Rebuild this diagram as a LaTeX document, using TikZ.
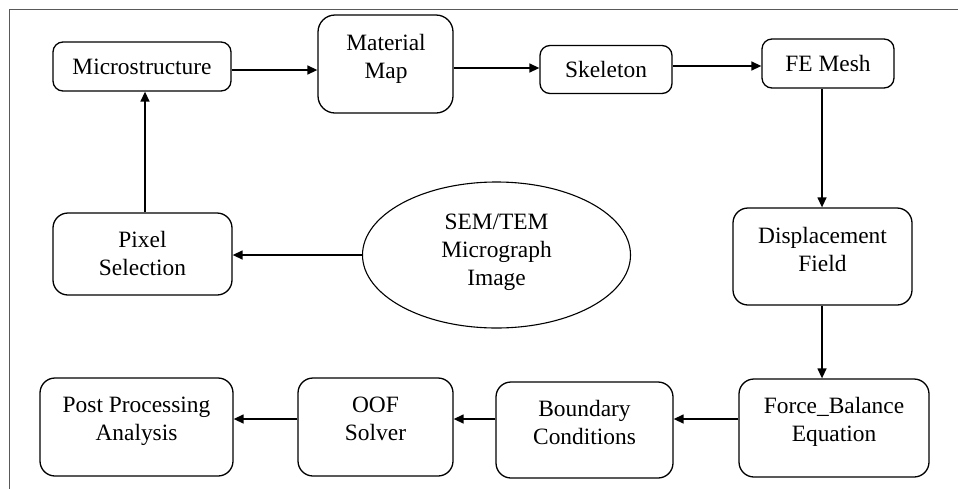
\documentclass[tikz,border=0pt]{standalone}
\usepackage{fontspec}
\setmainfont{Liberation Serif}
\usetikzlibrary{arrows.meta,shapes.geometric}
\begin{document}
\begin{tikzpicture}[x=1pt,y=-1pt,
  box/.style={draw, line width=1.3pt, rounded corners=#1, inner sep=0pt,
    font=\fontsize{23.4}{28}\selectfont},
  box/.default=15pt,
  lbl/.style={font=\fontsize{23.4}{28}\selectfont, align=center, inner sep=0pt},
  oval/.style={draw, ellipse, line width=1.1pt, inner sep=0pt},
  arr/.style={-{Triangle[length=10pt,width=9pt]}, line width=1.4pt},
  frame/.style={line width=1pt, black!65}]
\useasboundingbox (0,0) rectangle (958,488);
\begin{scope}
  \clip (0,0) rectangle (958,488);
  \draw[frame] (9,9) rectangle (975,505);
\end{scope}
% guide coordinates for connectors
\coordinate (rowa) at (0,70);
\coordinate (rowb) at (0,68);
\coordinate (rowc) at (0,66);
\coordinate (rowbot) at (0,419);
\coordinate (colr) at (822,0);
\coordinate (coll) at (145,0);
% boxes
\node[box=10pt, minimum width=178pt, minimum height=49pt] (micro) at (142,66.5) {Microstructure};
\node[box=17pt, minimum width=135pt, minimum height=98pt] (mat) at (385.5,64) {};
\node[lbl] (matt) at (386,58.5) {Material\\Map};
\node[box=10pt, minimum width=132pt, minimum height=48pt] (skel) at (606,69.5) {Skeleton};
\node[box=10pt, minimum width=132pt, minimum height=49pt] (fe) at (828,63.5) {FE Mesh};
\node[box, minimum width=179pt, minimum height=97pt] (disp) at (822.5,256.5) {};
\node[lbl] (dispt) at (822.5,249) {Displacement\\Field};
\node[box, minimum width=190pt, minimum height=98pt] (fb) at (834,428) {};
\node[lbl] (fbt) at (834,421.5) {Force\_Balance\\Equation};
\node[box, minimum width=177pt, minimum height=96pt] (bc) at (584.5,430) {};
\node[lbl] (bct) at (584.5,422) {Boundary\\Conditions};
\node[box, minimum width=155pt, minimum height=98pt] (oof) at (375.5,427) {};
\node[lbl] (ooft) at (375.5,419) {OOF\\Solver};
\node[box, minimum width=193pt, minimum height=98pt] (post) at (136.5,427) {};
\node[lbl] (postt) at (136.5,421.5) {Post Processing\\Analysis};
\node[box, minimum width=179pt, minimum height=82pt] (pix) at (142.5,254) {};
\node[lbl] (pixt) at (142.5,253) {Pixel\\Selection};
\node[oval, minimum width=268pt, minimum height=146pt] (sem) at (496.5,255) {};
\node[lbl] (semt) at (496.5,252.5) {SEM/TEM\\Micrograph\\Image};
% connectors
\draw[arr] (micro.east |- rowa) -- (mat.west |- rowa);
\draw[arr] (mat.east |- rowb) -- (skel.west |- rowb);
\draw[arr] (skel.east |- rowc) -- (fe.west |- rowc);
\draw[arr] (fe.south -| colr) -- (disp.north -| colr);
\draw[arr] (disp.south -| colr) -- (fb.north -| colr);
\draw[arr] (fb.west |- rowbot) -- (bc.east |- rowbot);
\draw[arr] (bc.west |- rowbot) -- (oof.east |- rowbot);
\draw[arr] (oof.west |- rowbot) -- (post.east |- rowbot);
\draw[arr] (sem.west) -- (sem.west -| pix.east);
\draw[arr] (pix.north -| coll) -- (micro.south -| coll);
\end{tikzpicture}
\end{document}
